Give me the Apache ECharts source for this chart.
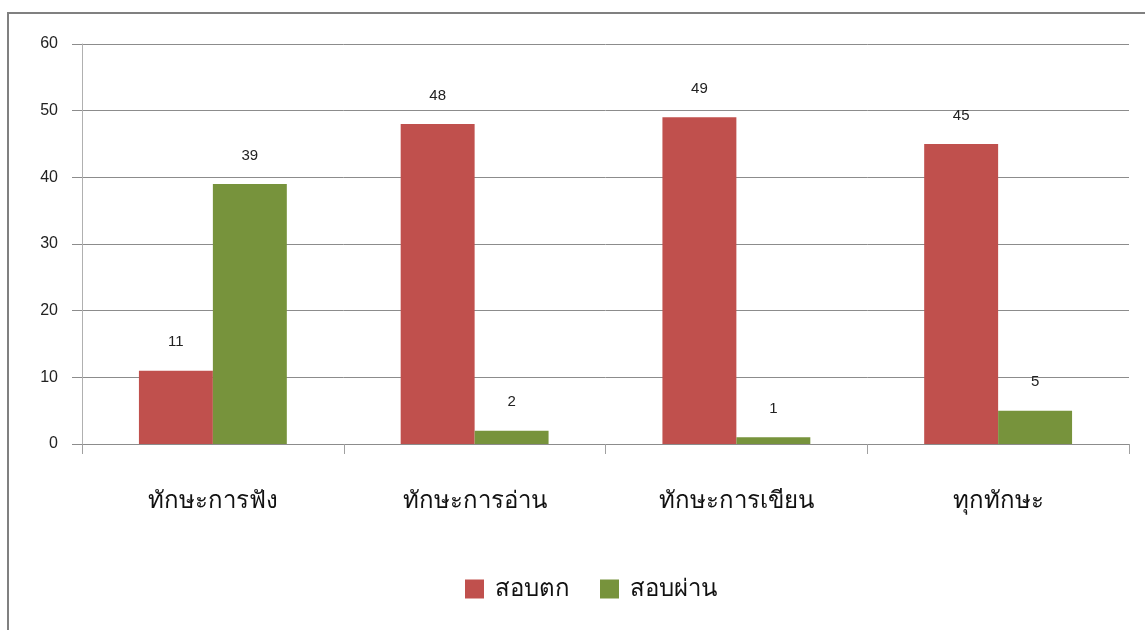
<!DOCTYPE html>
<html><head><meta charset="utf-8">
<script src="https://cdn.jsdelivr.net/npm/echarts@6/dist/echarts.min.js"></script>
<style>html,body{margin:0;padding:0;background:#fff}#c{width:1145px;height:630px}</style>
</head><body><div id="c"></div>
<script>
const categories = ['ทักษะการฟัง', 'ทักษะการอ่าน', 'ทักษะการเขียน', 'ทุกทักษะ'];
const failValues = [11, 48, 49, 45];
const passValues = [39, 2, 1, 5];
const seriesNames = ['สอบตก', 'สอบผ่าน'];
const yTicks = { min: 0, max: 60, interval: 10 };

const chart = echarts.init(document.getElementById('c'));
const labelStyle = { show: true, position: 'top', distance: 21, fontSize: 15, color: '#222', fontFamily: 'Arial, Liberation Sans, sans-serif' };
chart.setOption({
  animation: false,
  graphic: [{ type: 'rect', shape: { x: 8, y: 13, width: 1300, height: 800 }, style: { fill: 'none', stroke: '#808080', lineWidth: 2 }, silent: true }],
  grid: { left: 82, right: 16, top: 44, bottom: 186 },
  legend: {
    bottom: 24, left: 460, itemWidth: 19, itemHeight: 19, itemGap: 30,
    icon: 'rect',
    textStyle: { fontSize: 24, color: '#111', padding: [0, 0, 0, 6] },
    data: seriesNames
  },
  xAxis: {
    type: 'category', data: categories,
    axisLine: { lineStyle: { color: '#8c8c8c' } },
    axisTick: { show: true, length: 10, lineStyle: { color: '#a0a0a0' } },
    axisLabel: { fontSize: 24, color: '#111', margin: 45 }
  },
  yAxis: {
    type: 'value', min: yTicks.min, max: yTicks.max, interval: yTicks.interval,
    axisLine: { show: true, lineStyle: { color: '#b0b0b0' } },
    axisTick: { show: true, length: 10, lineStyle: { color: '#8c8c8c' } },
    splitLine: { lineStyle: { color: '#8c8c8c' } },
    axisLabel: { fontSize: 16, color: '#222', margin: 24, fontFamily: 'Arial, Liberation Sans, sans-serif' }
  },
  series: [
    { name: seriesNames[0], type: 'bar', data: failValues, barGap: 0, barCategoryGap: '43.5%', itemStyle: { color: '#C0504D' }, label: labelStyle },
    { name: seriesNames[1], type: 'bar', data: passValues, barGap: 0, barCategoryGap: '43.5%', itemStyle: { color: '#77933C' }, label: labelStyle }
  ]
});
</script></body></html>
